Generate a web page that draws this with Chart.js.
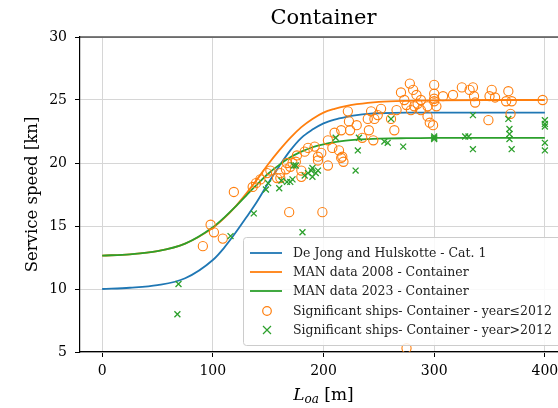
<!DOCTYPE html>
<html>
<head>
<meta charset="utf-8">
<script src="https://cdn.jsdelivr.net/npm/chart.js@4/dist/chart.umd.min.js"></script>
<style>
  html, body { margin: 0; padding: 0; background: #fff; overflow: hidden; }
  #wrap { width: 600px; height: 408px; }
</style>
</head>
<body>
<div id="wrap"><canvas id="chart" width="600" height="408"></canvas></div>
<script>
// curve sample lengths [m] and speeds [kn]
const curveLength = [0, 25, 50, 75, 100, 110, 120, 130, 140, 150, 160, 170, 180, 190, 200, 210, 220, 230, 240, 250, 275, 300, 350, 400];
const deJongSpeed = [10.0, 10.1, 10.3, 10.85, 12.3, 13.25, 14.4, 15.65, 16.95, 18.4, 19.75, 21.0, 22.0, 22.65, 23.15, 23.45, 23.65, 23.8, 23.9, 23.95, 24.0, 24.0, 24.0, 24.0];
const man2008Speed = [12.65, 12.75, 13.0, 13.6, 14.85, 15.6, 16.5, 17.55, 18.7, 19.9, 21.0, 22.0, 22.85, 23.5, 24.0, 24.3, 24.52, 24.67, 24.78, 24.85, 24.93, 24.97, 25.0, 25.0];
const man2023Speed = [12.65, 12.75, 13.0, 13.6, 14.9, 15.65, 16.5, 17.4, 18.3, 19.15, 19.85, 20.45, 20.9, 21.25, 21.48, 21.65, 21.77, 21.85, 21.9, 21.93, 21.97, 22.0, 22.0, 22.0];

// ships built up to 2012
const oldShipLength = [91, 98, 101, 109, 119, 136, 139, 143, 149, 152, 158, 161, 161, 166, 167, 169, 170, 172, 175, 176, 180, 180, 183, 186, 192, 195, 195, 198, 199, 204, 204, 208, 210, 214, 216, 216, 217, 218, 222, 223, 224, 230, 235, 240, 241, 243, 245, 246, 249, 252, 261, 264, 266, 270, 273, 275, 275, 278, 279, 281, 282, 284, 285, 288, 288, 294, 294, 296, 299, 300, 300, 300, 300, 302, 308, 317, 325, 332, 335, 336, 337, 349, 350, 352, 355, 365, 367, 369, 370, 398];
const oldShipSpeed = [13.4, 15.1, 14.5, 14.0, 17.7, 18.1, 18.4, 18.7, 19.2, 19.4, 18.8, 18.8, 19.2, 19.5, 20.0, 16.1, 19.7, 20.0, 20.1, 20.6, 19.4, 18.9, 20.9, 21.2, 21.3, 20.5, 20.2, 20.8, 16.1, 19.8, 21.8, 21.2, 22.4, 21.0, 22.6, 20.4, 20.5, 20.1, 24.1, 23.3, 22.6, 23.0, 22.0, 23.5, 22.6, 24.1, 21.8, 23.5, 23.8, 24.3, 23.5, 22.6, 24.2, 25.6, 25.0, 24.6, 5.3, 26.3, 24.2, 25.8, 24.5, 25.4, 24.7, 24.2, 25.0, 24.5, 23.7, 23.2, 23.0, 26.2, 25.5, 25.1, 24.9, 24.5, 25.3, 25.4, 26.0, 25.8, 26.0, 25.3, 24.8, 23.4, 25.3, 25.8, 25.2, 24.9, 25.7, 23.9, 24.9, 25.0];

// ships built after 2012
const newShipLength = [68, 69, 116, 137, 148, 150, 160, 162, 167, 170, 172, 173, 175, 181, 183, 186, 189, 190, 190, 193, 195, 211, 229, 231, 232, 255, 258, 261, 272, 300, 300, 300, 328, 331, 335, 335, 367, 368, 368, 368, 370, 400, 400, 400, 400, 400];
const newShipSpeed = [8.0, 10.4, 14.2, 16.0, 17.9, 18.4, 18.0, 18.6, 18.5, 18.5, 18.7, 19.8, 19.8, 14.5, 19.0, 19.2, 19.4, 18.9, 19.6, 19.2, 19.4, 22.0, 19.4, 21.0, 22.0, 21.7, 21.6, 23.5, 21.3, 22.0, 21.9, 22.1, 22.1, 22.1, 23.8, 21.1, 23.5, 22.7, 22.3, 21.9, 21.1, 23.4, 22.9, 23.1, 21.6, 21.0];

const xTicks = [0, 100, 200, 300, 400];
const yTicks = [5, 10, 15, 20, 25, 30];

const FONT = "'DejaVu Serif', serif";
const BLUE = "#1f77b4";
const ORANGE = "#ff7f0e";
const GREEN = "#2ca02c";

function toPoints(xs, ys) {
  return xs.map((x, i) => ({ x: x, y: ys[i] }));
}

function curve(label, ys, color, order) {
  return {
    label: label,
    data: toPoints(curveLength, ys),
    showLine: true,
    borderColor: color,
    borderWidth: 1.8,
    pointRadius: 0,
    cubicInterpolationMode: "monotone",
    order: order,
  };
}

// frame, title, x label with subscript and the in-plot legend
const decorPlugin = {
  id: "decor",
  afterDraw(chart) {
    const ctx = chart.ctx;
    const area = chart.chartArea;
    const cx = (area.left + area.right) / 2;
    ctx.save();

    // top spine
    ctx.strokeStyle = "#000";
    ctx.lineWidth = 1.2;
    ctx.beginPath();
    ctx.moveTo(area.left, area.top);
    ctx.lineTo(area.right, area.top);
    ctx.stroke();

    // title
    ctx.fillStyle = "#000";
    ctx.font = "21px " + FONT;
    ctx.textAlign = "center";
    ctx.textBaseline = "middle";
    ctx.fillText("Container", cx, 19);

    // x axis label: L_oa [m]
    const big = "italic 17px " + FONT;
    const small = "italic 12px " + FONT;
    const norm = "17px " + FONT;
    ctx.textAlign = "left";
    ctx.textBaseline = "alphabetic";
    ctx.font = big; const wL = ctx.measureText("L").width;
    ctx.font = small; const wS = ctx.measureText("oa").width;
    ctx.font = norm; const wM = ctx.measureText(" [m]").width;
    let x0 = cx - (wL + wS + wM) / 2;
    const base = 400;
    ctx.font = big; ctx.fillText("L", x0, base);
    ctx.font = small; ctx.fillText("oa", x0 + wL, base + 3);
    ctx.font = norm; ctx.fillText(" [m]", x0 + wL + wS, base);

    // legend box
    const lx = 243, ly = 237, lw = 330, lh = 108;
    ctx.fillStyle = "rgba(255,255,255,0.85)";
    ctx.strokeStyle = "#cccccc";
    ctx.lineWidth = 1;
    ctx.beginPath();
    ctx.roundRect(lx + 0.5, ly + 0.5, lw, lh, 3);
    ctx.fill();
    ctx.stroke();

    const rows = [253, 272, 291, 311, 330];
    ctx.font = "12.5px " + FONT;
    ctx.textBaseline = "middle";
    chart.data.datasets.forEach((ds, i) => {
      const y = rows[i];
      if (ds.showLine) {
        ctx.strokeStyle = ds.borderColor;
        ctx.lineWidth = 1.8;
        ctx.beginPath();
        ctx.moveTo(250, y);
        ctx.lineTo(282, y);
        ctx.stroke();
      } else if (ds.pointStyle === "crossRot") {
        ctx.strokeStyle = ds.borderColor;
        ctx.lineWidth = 1.2;
        ctx.beginPath();
        ctx.moveTo(263, y - 4); ctx.lineTo(271, y + 4);
        ctx.moveTo(271, y - 4); ctx.lineTo(263, y + 4);
        ctx.stroke();
      } else {
        ctx.strokeStyle = ds.borderColor;
        ctx.lineWidth = 1.2;
        ctx.beginPath();
        ctx.arc(267, y, 4.3, 0, Math.PI * 2);
        ctx.stroke();
      }
      ctx.fillStyle = "#222";
      ctx.fillText(ds.label, 293, y + 1);
    });
    ctx.restore();
  },
};

const config = {
  type: "scatter",
  data: {
    datasets: [
      curve("De Jong and Hulskotte - Cat. 1", deJongSpeed, BLUE, 5),
      curve("MAN data 2008 - Container", man2008Speed, ORANGE, 4),
      curve("MAN data 2023 - Container", man2023Speed, GREEN, 3),
      {
        label: "Significant ships- Container - year\u22642012",
        data: toPoints(oldShipLength, oldShipSpeed),
        pointStyle: "circle",
        pointRadius: 4.6,
        pointBorderWidth: 1.1,
        borderColor: ORANGE,
        backgroundColor: "rgba(0,0,0,0)",
        order: 2,
      },
      {
        label: "Significant ships- Container - year>2012",
        data: toPoints(newShipLength, newShipSpeed),
        pointStyle: "crossRot",
        pointRadius: 4.2,
        pointBorderWidth: 1.3,
        borderColor: GREEN,
        backgroundColor: GREEN,
        order: 1,
      },
    ],
  },
  options: {
    responsive: false,
    animation: false,
    devicePixelRatio: 1,
    layout: { padding: { top: 37, right: 33, left: 0, bottom: 0 } },
    plugins: {
      legend: { display: false },
      tooltip: { enabled: false },
      title: { display: false },
    },
    scales: {
      x: {
        type: "linear",
        min: -20,
        max: 420,
        afterBuildTicks: (scale) => { scale.ticks = xTicks.map((v) => ({ value: v })); },
        afterFit: (scale) => { scale.height = 56; },
        grid: { color: "#d6d6d6", lineWidth: 1, tickColor: "#000", tickLength: 5, drawTicks: true },
        border: { color: "#000", width: 1.2 },
        ticks: { color: "#000", padding: 6, font: { family: FONT, size: 14 } },
      },
      y: {
        type: "linear",
        min: 5,
        max: 30,
        afterBuildTicks: (scale) => { scale.ticks = yTicks.map((v) => ({ value: v })); },
        afterFit: (scale) => { scale.width = 80; },
        grid: { color: "#d6d6d6", lineWidth: 1, tickColor: "#000", tickLength: 5, drawTicks: true },
        border: { color: "#000", width: 1.2 },
        ticks: { color: "#000", padding: 8, font: { family: FONT, size: 14 } },
        title: {
          display: true,
          text: "Service speed [kn]",
          color: "#000",
          font: { family: FONT, size: 16.5 },
          padding: { top: 23, bottom: 0 },
        },
      },
    },
  },
  plugins: [decorPlugin],
};

new Chart(document.getElementById("chart"), config);
</script>
</body>
</html>
